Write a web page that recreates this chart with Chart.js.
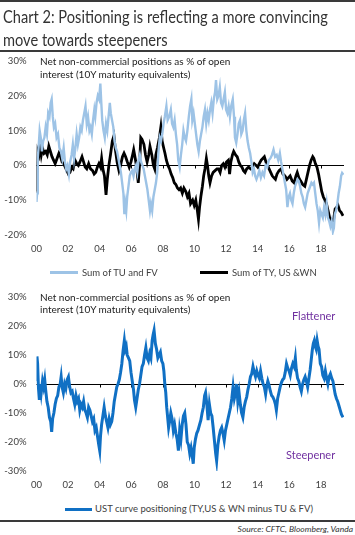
<!DOCTYPE html>
<html><head><meta charset="utf-8">
<script src="https://cdn.jsdelivr.net/npm/chart.js@4.4.1/dist/chart.umd.min.js"></script>
<style>
html,body{margin:0;padding:0;background:#fff;}
body{width:355px;height:535px;position:relative;overflow:hidden;font-family:Lato,'Open Sans',sans-serif;}
canvas{position:absolute;left:0;}
.abs{position:absolute;white-space:nowrap;line-height:1;}
.rule{position:absolute;left:0;width:355px;background:#3a3a3a;}
.title{font-size:17px;color:#333;transform:scaleX(0.86);transform-origin:0 0;}
.note{font-size:10px;color:#222;}
.leg{font-size:9.5px;color:#404040;}
.legline{position:absolute;height:3px;}
.purple{font-size:11px;color:#7030a0;}
.src{font-size:8.5px;color:#333;font-style:italic;}
</style></head><body>
<canvas id="c1" width="355" height="262" style="top:0"></canvas>
<canvas id="c2" width="355" height="220" style="top:280px"></canvas>

<div class="rule" style="top:0;height:2px"></div>
<div class="abs title" style="left:3px;top:8px">Chart 2: Positioning is reflecting a more convincing</div>
<div class="abs title" style="left:3px;top:31px">move towards steepeners</div>
<div class="rule" style="top:50px;height:2px"></div>

<div class="abs note" style="left:40px;top:56px">Net non-commercial positions as % of open</div>
<div class="abs note" style="left:40px;top:69px">interest (10Y maturity equivalents)</div>

<div class="legline" style="left:50px;top:271px;width:28px;background:#9dc3e6"></div>
<div class="abs leg" style="left:82px;top:268px">Sum of TU and FV</div>
<div class="legline" style="left:200px;top:271px;width:28px;background:#000"></div>
<div class="abs leg" style="left:232px;top:268px">Sum of TY, US &amp;WN</div>

<div class="abs note" style="left:40px;top:291.5px">Net non-commercial positions as % of open</div>
<div class="abs note" style="left:40px;top:304px">interest (10Y maturity equivalents)</div>
<div class="abs purple" style="left:292px;top:310px">Flattener</div>
<div class="abs purple" style="left:286px;top:449px">Steepener</div>

<div class="legline" style="left:65px;top:507.5px;width:27px;background:#1070c4"></div>
<div class="abs leg" style="left:95px;top:504px">UST curve positioning (TY,US &amp; WN minus TU &amp; FV)</div>
<div class="rule" style="top:520px;height:1.5px"></div>
<div class="abs src" style="right:2px;top:525px">Source: CFTC, Bloomberg, Vanda</div>

<script>
// ---- data (x = years since 2000, y = % of open interest) ----
const tickYears = [2000,2002,2004,2006,2008,2010,2012,2014,2016,2018];
const tickLabels = ['00','02','04','06','08','10','12','14','16','18'];
const topTicks = [-20,-10,0,10,20,30];
const bottomTicks = [-30,-20,-10,0,10,20,30];

const tuFvT = [0.00,0.04,0.08,0.13,0.20,0.27,0.34,0.42,0.50,0.58,0.66,0.74,0.82,0.90,0.96,1.03,1.10,1.18,1.27,1.36,1.45,1.55,1.63,1.72,1.80,1.88,1.96,2.05,2.13,2.22,2.30,2.38,2.46,2.54,2.62,2.70,2.78,2.86,2.94,3.02,3.10,3.18,3.26,3.35,3.42,3.50,3.58,3.66,3.72,3.80,3.88,3.96,4.04,4.10,4.16,4.24,4.32,4.40,4.48,4.56,4.64,4.70,4.78,4.86,4.94,5.02,5.10,5.18,5.26,5.34,5.42,5.50,5.56,5.62,5.68,5.74,5.82,5.90,5.98,6.06,6.14,6.22,6.30,6.38,6.46,6.54,6.62,6.70,6.78,6.86,6.94,7.02,7.10,7.18,7.24,7.32,7.40,7.48,7.56,7.64,7.72,7.80,7.88,7.96,8.04,8.12,8.22,8.30,8.40,8.50,8.58,8.66,8.74,8.82,8.90,8.97,9.06,9.14,9.22,9.30,9.38,9.46,9.55,9.64,9.72,9.80,9.86,9.94,10.02,10.10,10.18,10.26,10.34,10.42,10.50,10.58,10.66,10.74,10.82,10.90,10.98,11.06,11.14,11.22,11.30,11.36,11.44,11.52,11.60,11.68,11.76,11.84,11.92,12.00,12.08,12.16,12.24,12.32,12.42,12.50,12.56,12.64,12.72,12.80,12.88,12.96,13.04,13.12,13.20,13.28,13.36,13.44,13.52,13.60,13.68,13.76,13.84,13.92,14.00,14.10,14.20,14.30,14.40,14.50,14.60,14.70,14.80,14.90,15.00,15.10,15.20,15.30,15.40,15.48,15.56,15.64,15.72,15.80,15.88,15.96,16.04,16.12,16.20,16.28,16.36,16.44,16.52,16.60,16.68,16.76,16.84,16.92,17.00,17.08,17.16,17.24,17.32,17.40,17.48,17.56,17.64,17.72,17.80,17.88,17.96,18.04,18.12,18.20,18.28,18.36,18.44,18.52,18.60,18.68,18.76,18.82,18.88,18.96,19.04,19.12,19.20,19.28,19.34,19.42];
const tuFvValues = [-10.5,-8,2,5,10,8,4,7,8,11,9,15,14,18,19,14,11,12,8,9,5,4,2,5,1,-1,0,-2.5,1,3,6,2,5,9,6,8,11,10,13,15,17,12,14,10,11,9,13,16,14,18,20,19,23.5,18,13,10,8,12,10,14,18,15,13,11,7,5,4,2,0,-2,-5,-8,-14,-11,-13,-9,-6,-3,-2,-1.5,-3,-1,0,-2,1.5,3,1,0,-1,-3,-5,-7,-10,-13,-11,-13,-9,-7,-5,-2,4,8,7,9,12,14,17,13,14,16,12,11,13,9,6,1.5,-0.5,3,6,10,8,7,10,14,17,19,13,15,12,9,6,4,7,9,11,14,16,12,15,13,16,18,15,19,21,24.5,19,20,22.5,18,17,19,21,16,15,17,14,17,19,14,8,6.5,9,12,13,9,10,13,15,10,7,5,3.5,1,-2,-1,-3,-4,-3,-1.5,-3.5,-2,-3,0,-0.5,1.5,2,3,4.5,2.5,3,1.5,3.5,1,-1,-3,-5,-7,-12,-9,-8,-10,-11,-8,-6,-5,-4,-4.5,-6,-8,-9,-11,-12,-10,-8,-7,-6,-5,-5.5,-5,-8,-11,-13,-16.5,-13,-14,-15,-12,-14,-11,-15,-16,-17.5,-16,-19,-18,-14,-13,-11,-8,-6,-3,-2.2,-2.7];

const tyUsWnT = [0.00,0.03,0.08,0.15,0.22,0.30,0.38,0.48,0.58,0.68,0.78,0.88,0.98,1.08,1.18,1.30,1.42,1.52,1.62,1.72,1.82,1.92,2.02,2.12,2.22,2.32,2.44,2.55,2.65,2.75,2.88,2.98,3.08,3.18,3.30,3.42,3.55,3.65,3.75,3.85,3.95,4.05,4.12,4.20,4.30,4.40,4.48,4.58,4.68,4.80,4.90,4.98,5.10,5.22,5.32,5.44,5.54,5.64,5.75,5.87,5.98,6.08,6.15,6.25,6.35,6.44,6.52,6.60,6.68,6.80,6.90,7.00,7.10,7.18,7.30,7.40,7.48,7.55,7.65,7.78,7.87,7.95,8.05,8.13,8.22,8.32,8.42,8.52,8.62,8.72,8.82,8.92,9.02,9.12,9.23,9.33,9.45,9.55,9.65,9.75,9.88,9.98,10.08,10.18,10.25,10.32,10.40,10.50,10.58,10.66,10.75,10.82,10.90,10.98,11.08,11.18,11.30,11.42,11.52,11.62,11.72,11.82,11.92,12.02,12.14,12.22,12.30,12.40,12.48,12.60,12.70,12.80,12.90,13.00,13.10,13.20,13.30,13.42,13.55,13.65,13.78,13.90,14.00,14.10,14.22,14.32,14.42,14.52,14.62,14.72,14.82,14.92,15.02,15.12,15.22,15.35,15.48,15.60,15.72,15.85,15.95,16.05,16.18,16.30,16.42,16.50,16.60,16.72,16.85,16.98,17.08,17.18,17.28,17.38,17.48,17.55,17.65,17.75,17.85,17.95,18.05,18.15,18.25,18.35,18.45,18.55,18.65,18.75,18.82,18.90,19.00,19.08,19.18,19.28,19.40];
const tyUsWnValues = [-7.5,-3,4,3,5.5,3,5,3.5,4,3,5.5,4,2.5,1.5,0.5,2,3.5,2.5,1,0.5,-0.5,-1.5,-2.5,-2,-0.5,-1,1.5,0.5,0,1,2.5,1,-0.5,-1,0.5,-1,-1.5,-2.5,-2,-0.5,0.5,-0.5,2,-1,-3,-8.5,-4,0,3,7,8.5,5,1,-1.5,0,2.5,3.5,2.5,1,-0.5,1,3,4.5,2,-1,-5,0,8,7.5,6,3,1,3,5.5,3,0,-1,3,5,8,11,7,5,3.5,1.5,0,-1,-2.5,-3.5,-5,-5.5,-6.5,-7,-6.5,-8,-6.5,-7.5,-9,-8,-11,-10,-11.5,-10,-13,-15.5,-12,-9,-6,-3,-1,2,0,-3,-5,-3,-2,-1.5,-1,-1,-2,0,0.5,-0.5,1,1.5,-2.5,1,3,4,3,2.5,1,0,-0.5,-1.5,-2,-1,-0.5,-1,-0.5,0.5,0,-0.5,0.5,1.5,2,2.5,1,0,-1,-2,-3,-3.5,-4,-2.5,-1.5,-1,-2.5,-3,-4,-3.5,-3,-4.5,-5,-3,-2,-3.5,-4.5,-5.5,-6,-4,-2,0,1.5,2.5,2,0.5,-0.5,-2.5,-5,-7.5,-9,-10,-11,-13,-15,-15.5,-17,-15,-12.5,-12,-11.5,-13,-13.5,-14.5];

const curveT = [0.00,0.03,0.07,0.12,0.18,0.24,0.30,0.38,0.45,0.52,0.58,0.66,0.74,0.82,0.90,0.96,1.02,1.10,1.18,1.26,1.34,1.42,1.50,1.56,1.62,1.70,1.78,1.86,1.94,2.02,2.10,2.18,2.26,2.34,2.42,2.50,2.58,2.66,2.74,2.82,2.90,2.98,3.06,3.14,3.22,3.30,3.38,3.46,3.54,3.62,3.70,3.78,3.86,3.94,4.00,4.05,4.12,4.20,4.28,4.36,4.44,4.52,4.60,4.68,4.76,4.84,4.92,5.00,5.08,5.16,5.24,5.32,5.40,5.48,5.56,5.62,5.68,5.74,5.82,5.90,5.98,6.06,6.14,6.20,6.28,6.36,6.44,6.52,6.60,6.68,6.76,6.84,6.92,7.00,7.08,7.16,7.24,7.32,7.38,7.44,7.52,7.60,7.68,7.76,7.84,7.92,8.00,8.06,8.12,8.18,8.24,8.30,8.36,8.42,8.50,8.58,8.66,8.74,8.82,8.90,8.98,9.06,9.14,9.22,9.30,9.38,9.46,9.54,9.62,9.70,9.78,9.86,9.92,9.98,10.06,10.14,10.22,10.32,10.40,10.48,10.56,10.64,10.70,10.78,10.86,10.94,11.02,11.10,11.18,11.26,11.34,11.40,11.48,11.56,11.64,11.72,11.80,11.88,11.96,12.04,12.12,12.20,12.28,12.36,12.44,12.52,12.60,12.66,12.74,12.82,12.90,12.98,13.06,13.14,13.22,13.30,13.38,13.46,13.54,13.62,13.70,13.78,13.86,13.94,14.02,14.10,14.18,14.26,14.34,14.42,14.50,14.56,14.64,14.72,14.80,14.88,14.96,15.04,15.12,15.18,15.26,15.34,15.42,15.50,15.58,15.66,15.74,15.82,15.90,15.98,16.06,16.14,16.22,16.30,16.38,16.44,16.52,16.60,16.68,16.76,16.84,16.92,17.00,17.08,17.16,17.24,17.32,17.40,17.46,17.52,17.58,17.64,17.70,17.76,17.82,17.88,17.96,18.04,18.12,18.20,18.28,18.36,18.44,18.52,18.60,18.68,18.76,18.82,18.90,18.98,19.06,19.14,19.22,19.30,19.40];
const curveValues = [1,9.5,7,-1,-5.5,0,-3,1,-1,1.5,-2,-6,-8,-11.5,-13,-16.5,-12,-10,-7,-5,-4,-1,0,2.5,-1,-3,0,-1.5,1.5,2.5,-1,-3,-2.5,-5,-7,-4,-6,-5,-9,-7,-8,-6,-9,-10,-11.5,-8,-9,-11,-13,-12,-16,-15,-18,-21,-23,-18,-14,-11,-8,-11,-13,-15,-12,-14,-13,-10,-6,-3.5,-1,0,1.5,4,7,11.5,15,12,13,10,9,8,4,1,-2,-5.5,-8,-5,-2,0,3,6,7,10,12.5,9,8,10.5,9,15,17,18.5,14,12,9,10,11,8,7,4.5,0,-3,-8,-11.5,-15,-13,-10,-12,-16,-14,-17,-19,-23,-16,-19,-14,-11,-10,-14,-20,-21,-24,-22,-25,-27.5,-22,-19,-17,-16,-14,-12.5,-10,-8,-4,-3,-7,-12.5,-7,-10,-11,-15,-19.5,-24,-26.5,-21,-18,-16,-15,-17,-19.5,-16,-14,-12,-10,-8,-5,-1,-5,-3,0,-6,-3,-7,-10,-11.5,-8,-6,-4.5,-2,0,2.5,3.5,6,4,2.5,4.5,3,2,4.5,2,0,-1,-3.5,-1,1,-0.5,-2.5,-4,-4.5,-5.5,-7,-9,-5,-3,-1,0.5,1.5,2,4,7,5.5,4.5,3,5.5,7,6,9,5,2,1,-1,-2.5,0,1.5,2.5,1,-1,2,5,9,12,14,15,13,12,15,13,12,7,6,3,2,4.5,2,0,2.5,3.5,2,1,-1,-3.5,-5,-6,-7.5,-9,-10.5,-11.5];

// ---- rendering ----
Chart.defaults.font.family = "Lato, 'Open Sans', sans-serif";
Chart.defaults.color = '#404040';

const pts = (t, v) => t.map((d, i) => ({x: 2000 + d, y: v[i]}));

const zeroAxis = {
  id: 'zeroAxis',
  beforeDatasetsDraw(chart) {
    const {ctx, chartArea, scales: {x, y}} = chart;
    const py = Math.round(y.getPixelForValue(0)) + 0.5;
    ctx.save();
    ctx.strokeStyle = '#000';
    ctx.lineWidth = 1;
    ctx.beginPath();
    ctx.moveTo(chartArea.left, py);
    ctx.lineTo(chartArea.right, py);
    x.ticks.forEach(t => {
      const px = Math.round(x.getPixelForValue(t.value)) + 0.5;
      ctx.moveTo(px, py);
      ctx.lineTo(px, py + 3);
    });
    ctx.stroke();
    ctx.restore();
  }
};

function makeScales(yTicks, xHeight, xPad) {
  return {
    x: {
      type: 'linear', min: 2000, max: 2019.46,
      afterBuildTicks: s => { s.ticks = tickYears.map(v => ({value: v})); },
      ticks: {
        callback: (v) => tickLabels[tickYears.indexOf(v)],
        font: {size: 9.5}, padding: xPad, maxRotation: 0, autoSkip: false
      },
      grid: {display: false, drawTicks: false},
      border: {display: false},
      afterFit: s => { s.height = xHeight; }
    },
    y: {
      min: yTicks[0], max: yTicks[yTicks.length - 1],
      afterBuildTicks: s => { s.ticks = yTicks.map(v => ({value: v})); },
      ticks: {callback: v => v + '%', font: {size: 9.5}, padding: 10},
      grid: {display: false, drawTicks: false},
      border: {display: false},
      afterFit: s => { s.width = 36.5; }
    }
  };
}

const common = {
  responsive: false, animation: false,
  plugins: {legend: {display: false}, tooltip: {enabled: false}},
  elements: {point: {radius: 0}, line: {tension: 0}}
};

new Chart(document.getElementById('c1'), {
  type: 'line',
  data: {datasets: [
    {label: 'Sum of TU and FV', data: pts(tuFvT, tuFvValues), borderColor: '#9dc3e6', borderWidth: 2.4},
    {label: 'Sum of TY, US &WN', data: pts(tyUsWnT, tyUsWnValues), borderColor: '#000000', borderWidth: 2.8}
  ]},
  options: Object.assign({}, common, {
    layout: {padding: {top: 61, right: 11, left: 0, bottom: 0}},
    scales: makeScales(topTicks, 27, 8)
  }),
  plugins: [zeroAxis]
});

new Chart(document.getElementById('c2'), {
  type: 'line',
  data: {datasets: [
    {label: 'UST curve positioning (TY,US & WN minus TU & FV)', data: pts(curveT, curveValues), borderColor: '#1070c4', borderWidth: 3}
  ]},
  options: Object.assign({}, common, {
    layout: {padding: {top: 17, right: 11, left: 0, bottom: 0}},
    scales: makeScales(bottomTicks, 29, 8)
  }),
  plugins: [zeroAxis]
});
</script>
</body></html>
